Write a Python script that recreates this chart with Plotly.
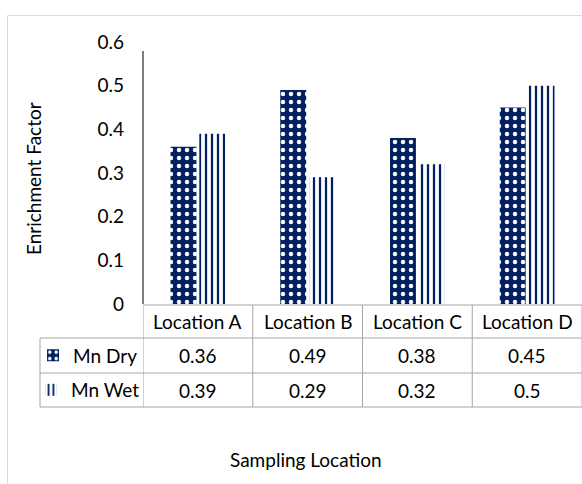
import plotly.graph_objects as go

categories = ["Location A", "Location B", "Location C", "Location D"]
mn_dry = [0.36, 0.49, 0.38, 0.45]
mn_wet = [0.39, 0.29, 0.32, 0.5]
series_names = ["Mn Dry", "Mn Wet"]
y_ticks = [0, 0.1, 0.2, 0.3, 0.4, 0.5, 0.6]
y_title = "Enrichment Factor"
x_title = "Sampling Location"

NAVY = "#002060"
GRID = "#a6a6a6"
FONT = "Lato"
FS = 19

W, H = 582, 484
L, R, T, B = 143, 0, 42, 180
PW, PH = W - L - R, H - T - B


def px(xp):
    return (xp - L) / PW


def py(yp):
    return (H - B - yp) / PH


fig = go.Figure()
fig.add_trace(go.Bar(
    x=categories, y=mn_dry, name=series_names[0], legend="legend",
    marker=dict(color=NAVY, line=dict(width=0),
                pattern=dict(shape=".", fgcolor="white", bgcolor=NAVY,
                             size=8, solidity=0.24, fillmode="replace")),
))
fig.add_trace(go.Bar(
    x=categories, y=mn_wet, name=series_names[1], legend="legend2",
    marker=dict(color=NAVY, line=dict(width=0),
                pattern=dict(shape="|", fgcolor=NAVY, bgcolor="white",
                             size=6, solidity=0.38, fillmode="replace")),
))

row_header_y = py(321.5)
row1_y = py(355.5)
row2_y = py(390)

annotations = []
for i, cat in enumerate(categories):
    for text, yy in ((cat, row_header_y), (str(mn_dry[i]), row1_y), (str(mn_wet[i]), row2_y)):
        annotations.append(dict(x=cat, y=yy, xref="x", yref="paper", text=text,
                                showarrow=False, xanchor="center", yanchor="middle",
                                font=dict(size=FS)))

annotations.append(dict(x=px(306), y=py(459), xref="paper", yref="paper",
                        text=x_title, showarrow=False, xanchor="center", yanchor="middle",
                        font=dict(size=FS)))
annotations.append(dict(x=px(33), y=py(178), xref="paper", yref="paper",
                        text=y_title, showarrow=False, textangle=-90,
                        xanchor="center", yanchor="middle", font=dict(size=FS)))

shapes = []
line = dict(color=GRID, width=1)
# outer chart border
shapes.append(dict(type="rect", xref="paper", yref="paper",
                   x0=px(7.5), y0=py(15.5), x1=px(700), y1=py(700),
                   line=dict(color="#d9d9d9", width=1), layer="below"))
# value axis line (starts a little below the top tick, as in the reference)
shapes.append(dict(type="line", xref="paper", yref="paper",
                   x0=0, x1=0, y0=py(304), y1=py(51),
                   line=dict(color="#000000", width=1)))
# table horizontal lines
shapes.append(dict(type="line", xref="paper", yref="paper",
                   x0=0, x1=1.05, y0=py(305), y1=py(305), line=line))
for yy in (338, 373, 407):
    shapes.append(dict(type="line", xref="paper", yref="paper",
                       x0=px(40), x1=1.05, y0=py(yy), y1=py(yy), line=line))
# table vertical lines
for k in range(len(categories) + 1):
    shapes.append(dict(type="line", xref="x", yref="paper",
                       x0=k - 0.5, x1=k - 0.5, y0=py(305), y1=py(407), line=line))
shapes.append(dict(type="line", xref="paper", yref="paper",
                   x0=px(40), x1=px(40), y0=py(338), y1=py(407), line=line))

fig.update_layout(
    width=W, height=H,
    margin=dict(l=L, r=R, t=T, b=B),
    paper_bgcolor="white", plot_bgcolor="white",
    font=dict(family=FONT, size=FS, color="#000000"),
    barmode="group", bargap=0.475, bargroupgap=0.1,
    xaxis=dict(type="category", range=[-0.5, 3.5], showticklabels=False,
               showgrid=False, showline=False, zeroline=False, ticks=""),
    yaxis=dict(range=[0, 0.6], tickvals=y_ticks, ticktext=[str(v) for v in y_ticks],
               showgrid=False, zeroline=False, showline=False,
               ticks="", ticklabelstandoff=18,
               tickfont=dict(size=FS)),
    legend=dict(x=px(33), y=row1_y, xanchor="left", yanchor="middle",
                bgcolor="rgba(0,0,0,0)", font=dict(size=FS)),
    legend2=dict(x=px(31), y=row2_y, xanchor="left", yanchor="middle",
                 bgcolor="rgba(0,0,0,0)", font=dict(size=FS)),
    showlegend=True,
    shapes=shapes,
    annotations=annotations,
)

fig.write_html("out.html")
